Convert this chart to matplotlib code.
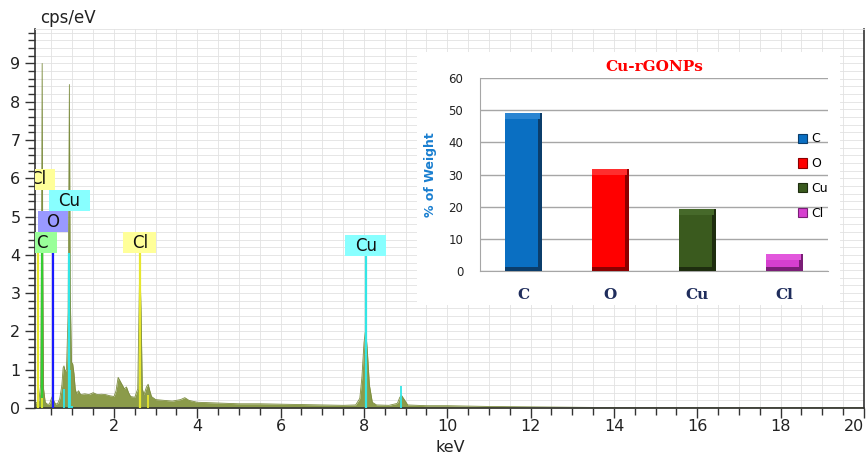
import matplotlib
matplotlib.use("Agg")
import matplotlib.pyplot as plt
from matplotlib.patches import Rectangle, Patch
from matplotlib.ticker import MultipleLocator
import numpy as np

# ---------------- data ----------------
energy_kev = [0.10, 0.15, 0.20, 0.24, 0.26, 0.277, 0.29, 0.31, 0.35, 0.40, 0.45, 0.50, 0.52, 0.55,
              0.60, 0.65, 0.70, 0.75, 0.78, 0.80, 0.83, 0.86, 0.90, 0.93, 0.95, 0.98, 1.01, 1.04,
              1.07, 1.10, 1.15, 1.20, 1.30, 1.40, 1.50, 1.60, 1.70, 1.80, 1.90, 2.00, 2.05, 2.10,
              2.15, 2.20, 2.25, 2.30, 2.35, 2.40, 2.50, 2.57, 2.60, 2.62, 2.65, 2.68, 2.72, 2.78,
              2.82, 2.86, 2.90, 3.00, 3.20, 3.40, 3.60, 3.70, 3.80, 4.00, 4.50, 5.00, 5.50, 6.00,
              6.50, 7.00, 7.50, 7.80, 7.90, 7.95, 8.00, 8.04, 8.08, 8.13, 8.20, 8.30, 8.60, 8.80,
              8.86, 8.90, 8.95, 9.05, 9.50, 10.0, 10.5, 11.0, 12.0, 13.0, 14.0, 16.0, 20.0]
cps_ev = [0.12, 0.15, 0.20, 0.60, 4.00, 9.00, 4.00, 0.50, 0.15, 0.10, 0.10, 0.25, 0.30, 0.20,
          0.10, 0.12, 0.25, 0.60, 1.05, 1.10, 0.95, 1.00, 2.50, 8.45, 3.00, 1.20, 1.15, 0.90,
          0.50, 0.38, 0.45, 0.35, 0.37, 0.35, 0.40, 0.35, 0.36, 0.35, 0.32, 0.30, 0.45, 0.80,
          0.70, 0.60, 0.50, 0.55, 0.40, 0.30, 0.28, 0.50, 2.50, 3.85, 2.50, 0.50, 0.35, 0.55,
          0.62, 0.45, 0.30, 0.22, 0.20, 0.18, 0.22, 0.27, 0.20, 0.15, 0.13, 0.11, 0.11, 0.10,
          0.09, 0.08, 0.07, 0.08, 0.25, 0.80, 1.70, 2.05, 1.50, 0.60, 0.15, 0.08, 0.07, 0.12,
          0.28, 0.33, 0.25, 0.08, 0.06, 0.06, 0.05, 0.04, 0.03, 0.02, 0.01, 0.01, 0.01]

# element marker lines (energy, height, colour)
marker_energy = [0.18, 0.277, 0.525, 0.93, 2.62, 8.04]
marker_height = [4.04, 4.04, 4.04, 4.04, 4.04, 3.97]
marker_color = ['#e6e62e', '#33cc33', '#1a1aff', '#33e6e6', '#e6e62e', '#33e6e6']
# minor marker lines
minor_energy = [0.27, 0.81, 0.95, 1.00, 2.82, 8.90]
minor_height = [0.25, 0.50, 1.00, 0.05, 0.35, 0.58]
minor_color = ['#e6e62e', '#33e6e6', '#33e6e6', '#33e6e6', '#e6e62e', '#33e6e6']

# element labels: text, centre energy, bottom, width, box colour
label_text = ['C', 'O', 'Cu', 'Cl', 'Cl', 'Cu']
label_x = [0.277, 0.525, 0.93, 0.18, 2.62, 8.04]
label_y = [4.04, 4.59, 5.14, 5.70, 4.04, 3.97]
label_w = [0.70, 0.72, 0.98, 0.80, 0.80, 0.98]
label_color = ['#99ff99', '#9999ff', '#88ffff', '#ffff99', '#ffff99', '#88ffff']

# inset bar chart
elements = ['C', 'O', 'Cu', 'Cl']
weight_pct = [49.2, 31.8, 19.3, 5.3]
bar_main = ['#0a6fc2', '#ff0000', '#3a5a1e', '#d63fcf']
bar_dark = ['#0b3d6b', '#8b0000', '#1e2d0f', '#7a1e76']
bar_light = ['#2a85d2', '#ff2e2e', '#46692a', '#e257dc']

# ---------------- figure ----------------
W, H = 866, 454
fig = plt.figure(figsize=(W / 100, H / 100), dpi=100)
plt.rcParams['font.family'] = ['DejaVu Sans']

def fa(l, t, r, b):
    return [l / W, 1 - b / H, (r - l) / W, (b - t) / H]

ax = fig.add_axes(fa(35, 29, 864, 408))
ax.set_xlim(0.105, 20)
ax.set_ylim(0, 9.9)

ax.fill_between(energy_kev, cps_ev, 0, color='#8b9b4a', lw=0, zorder=2)
ax.plot(energy_kev, cps_ev, color='#7d8d40', lw=0.6, zorder=2)

for e, h, c in zip(marker_energy, marker_height, marker_color):
    ax.plot([e, e], [0, h], color=c, lw=1.6, zorder=3, solid_capstyle='butt')
for e, h, c in zip(minor_energy, minor_height, minor_color):
    ax.plot([e, e], [0, h], color=c, lw=1.3, zorder=3, solid_capstyle='butt')

for t, x, y, w, c in zip(label_text, label_x, label_y, label_w, label_color):
    r = Rectangle((x - w / 2, y), w, 0.55, facecolor=c, edgecolor='none', zorder=4)
    ax.add_patch(r)
    r.set_clip_path(ax.patch)
    tx = ax.text(x, y + 0.27, t, ha='center', va='center', fontsize=12, color='#111111', zorder=5)
    tx.set_clip_on(True)

ax.xaxis.set_major_locator(MultipleLocator(2))
ax.xaxis.set_minor_locator(MultipleLocator(0.5))
ax.yaxis.set_major_locator(MultipleLocator(1))
ax.yaxis.set_minor_locator(MultipleLocator(0.2))
ax.grid(True, which='both', color='#e2e2e2', lw=0.6, zorder=0)
ax.set_axisbelow(True)
ax.tick_params(which='major', direction='out', length=7, width=1, colors='#333333',
               labelsize=11.5, labelcolor='#222222')
ax.tick_params(which='minor', direction='out', length=5, width=1, colors='#333333')
ax.tick_params(axis='x', pad=1)
ax.set_xticks([2, 4, 6, 8, 10, 12, 14, 16, 18, 20])
ax.get_xticklabels()[-1].set_horizontalalignment('right')
for s in ['left', 'bottom', 'right']:
    ax.spines[s].set_color('#333333')
    ax.spines[s].set_linewidth(1.2)
ax.spines['top'].set_color('#e2e2e2')
ax.spines['top'].set_linewidth(0.6)

fig.text(40 / W, 1 - 18 / H, 'cps/eV', fontsize=12, color='#222222', ha='left', va='center')
fig.text(450 / W, 1 - 455 / H, 'keV', fontsize=11.5, color='#222222', ha='center', va='bottom')

# ---------------- inset ----------------
bg = fig.add_axes(fa(417, 52, 840, 305))
bg.set_facecolor('white')
bg.set_xticks([]); bg.set_yticks([])
for s in bg.spines.values():
    s.set_visible(False)

ia = fig.add_axes(fa(480, 78, 828, 271))
ia.set_facecolor('white')
xpos = np.arange(len(elements))
bw = 0.43
dx = 0.045
dy = 1.8
vals = np.array(weight_pct)
ia.bar(xpos, vals, width=bw, color=bar_dark, zorder=3, lw=0)
ia.bar(xpos - dx / 2, vals, width=bw - dx, color=bar_main, zorder=3, lw=0)
ia.bar(xpos - dx / 4, np.full(len(vals), dy), bottom=vals - dy, width=bw - dx / 2,
       color=bar_light, zorder=4, lw=0)
ia.bar(xpos, np.full(len(vals), dy * 0.7), bottom=0, width=bw, color=bar_dark, zorder=4, lw=0)

ia.set_xlim(-0.5, 3.5)
ia.set_ylim(0, 60)
ia.set_yticks(range(0, 61, 10))
ia.yaxis.grid(True, color='#a6a6a6', lw=1)
ia.set_axisbelow(True)
ia.tick_params(axis='y', length=0, pad=12, labelsize=8.5, labelcolor='#222222')
ia.tick_params(axis='x', length=0, pad=12)
ia.set_xticks(xpos)
ia.set_xticklabels(elements, fontfamily='DejaVu Serif', fontweight='bold', fontsize=11,
                   color='#1f2d5c')
ia.spines['left'].set_color('#a6a6a6')
ia.spines['bottom'].set_color('#a6a6a6')
ia.spines['top'].set_visible(False)
ia.spines['right'].set_visible(False)
ia.set_ylabel('% of Weight', fontsize=9, fontweight='bold', color='#1a7fd0', labelpad=8)
ia.set_title('Cu-rGONPs', fontfamily='DejaVu Serif', fontweight='bold', fontsize=11,
             color='#ff0000', pad=5)

handles = [Patch(facecolor=m, edgecolor=d, lw=0.8) for m, d in zip(bar_main, bar_dark)]
ia.legend(handles, elements, loc='upper left', bbox_to_anchor=(0.895, 0.75), frameon=False,
          fontsize=9, handlelength=0.75, handleheight=0.75, handletextpad=0.3,
          labelspacing=0.95, borderpad=0)

fig.savefig('out.png', dpi=100)
